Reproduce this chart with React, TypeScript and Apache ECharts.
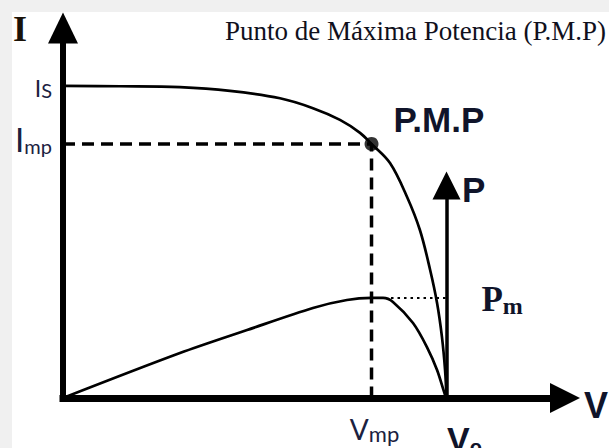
import React, { useEffect, useRef } from 'react';
import * as echarts from 'echarts';

// Axis ranges (V in volts, I in amperes, P in watts)
const V_MAX = 28.8;
const I_MAX = 6;
const P_MAX = 270;

// Characteristic points
const V_OC = 22;
const V_MP = 17.7;
const I_SC = 5.06;
const I_MP = 4.12;
const P_M = 73;
const P_AXIS_TOP = 155;

// I-V curve
const ivVoltage = [0, 3.27, 6.71, 9.58, 12.45, 14.34, 15.89, 17.04, 17.7, 18.76, 19.74, 20.48, 21.06, 21.46, 21.74, 21.92, 22.0];
const ivCurrent = [5.06, 5.055, 5.04, 4.98, 4.86, 4.7, 4.51, 4.3, 4.12, 3.81, 3.26, 2.72, 2.08, 1.54, 0.99, 0.45, 0];

// P-V curve
const pvVoltage = [0, 6.71, 10.56, 14.34, 16.29, 17.7, 18.36, 18.93, 20.08, 20.88, 21.46, 21.92, 22.0];
const pvPower = [0, 32.8, 49.6, 65.7, 71.5, 73.0, 73.0, 70.1, 54.7, 37.2, 20.4, 2.2, 0];

const TITLE = 'Punto de Máxima Potencia (P.M.P)';

const SERIF = '"Liberation Serif", "Times New Roman", serif';
const SANS = '"Liberation Sans", Arial, sans-serif';
const LABEL_FONT = 'Lato, "Open Sans", sans-serif';
const LABEL_COLOR = '#1b2140';

export default function App() {
  const ref = useRef<HTMLDivElement>(null);

  useEffect(() => {
    const el = ref.current as HTMLDivElement;
    const chart = echarts.init(el, null, { renderer: 'svg' });

    const ivData = ivVoltage.map((v, i) => [v, ivCurrent[i]]);
    const pvData = pvVoltage.map((v, i) => [v, pvPower[i]]);

    chart.setOption({
      animation: false,
      backgroundColor: '#ffffff',
      grid: { left: 63, right: 44, top: 28, bottom: 50, containLabel: false, outerBoundsMode: 'none' },
      xAxis: {
        type: 'value',
        min: 0,
        max: V_MAX,
        axisLine: {
          show: true,
          onZero: false,
          symbol: ['none', 'triangle'],
          symbolSize: [30, 30],
          lineStyle: { color: '#000', width: 7, cap: 'square' },
        },
        axisTick: { show: false },
        axisLabel: { show: false },
        splitLine: { show: false },
      },
      yAxis: [
        {
          type: 'value',
          min: 0,
          max: I_MAX,
          axisLine: {
            show: true,
            onZero: false,
            symbol: ['none', 'triangle'],
            symbolSize: [30, 31],
            lineStyle: { color: '#000', width: 6, cap: 'square' },
          },
          axisTick: { show: false },
          axisLabel: { show: false },
          splitLine: { show: false },
        },
        {
          type: 'value',
          min: 0,
          max: P_MAX,
          show: false,
          splitLine: { show: false },
        },
      ],
      series: [
        {
          name: 'I-V',
          type: 'line',
          data: ivData,
          yAxisIndex: 0,
          smooth: 0.35,
          showSymbol: false,
          silent: true,
          lineStyle: { color: '#000', width: 2.7 },
          z: 3,
        },
        {
          name: 'P-V',
          type: 'line',
          data: pvData,
          yAxisIndex: 1,
          smooth: 0.3,
          showSymbol: false,
          silent: true,
          lineStyle: { color: '#000', width: 2.7 },
          z: 3,
          markLine: {
            silent: true,
            symbol: ['none', 'triangle'],
            symbolSize: 28,
            label: { show: false },
            lineStyle: { color: '#000', width: 3.5, type: 'solid' },
            data: [[{ coord: [V_OC, 0] }, { coord: [V_OC, P_AXIS_TOP] }]],
          },
        },
        {
          name: 'guides',
          type: 'line',
          data: [[0, I_MP], [V_MP, I_MP], [V_MP, 0]],
          yAxisIndex: 0,
          showSymbol: false,
          silent: true,
          lineStyle: { color: '#000', width: 3.5, type: [12, 7] },
          z: 2,
        },
        {
          name: 'Pm',
          type: 'line',
          data: [[V_MP, P_M], [V_OC, P_M]],
          yAxisIndex: 1,
          showSymbol: false,
          silent: true,
          lineStyle: { color: '#000', width: 2, type: [2.5, 4] },
          z: 2,
        },
        {
          name: 'PMP',
          type: 'scatter',
          data: [[V_MP, I_MP]],
          yAxisIndex: 0,
          symbolSize: 14,
          silent: true,
          itemStyle: { color: '#000' },
          z: 4,
        },
      ],
    });

    const xPx = (v: number) => chart.convertToPixel({ xAxisIndex: 0 }, v) as number;
    const yPx = (v: number) => chart.convertToPixel({ yAxisIndex: 0 }, v) as number;
    const pPx = (v: number) => chart.convertToPixel({ yAxisIndex: 1 }, v) as number;

    const x0 = xPx(0);
    const xEnd = xPx(V_MAX);
    const xmp = xPx(V_MP);
    const xoc = xPx(V_OC);
    const y0 = yPx(0);
    const yTop = yPx(I_MAX);
    const yIs = yPx(I_SC);
    const yImp = yPx(I_MP);
    const yPm = pPx(P_M);
    const yPtop = pPx(P_AXIS_TOP);

    const text = (t: string, x: number, y: number, style: any) => ({
      type: 'text',
      x,
      y,
      silent: true,
      z: 10,
      style: { text: t, fill: '#000', verticalAlign: 'middle', align: 'left', ...style },
    });

    chart.setOption({
      graphic: [
        { type: 'rect', silent: true, z: 0, shape: { x: 0, y: 0, width: 609, height: 12 }, style: { fill: '#f0f0f0' } },
        { type: 'rect', silent: true, z: 0, shape: { x: 0, y: 0, width: 12, height: 448 }, style: { fill: '#f0f0f0' } },
        text(TITLE, 225, 30.5, { fontFamily: SERIF, fontSize: 27, fill: '#10101c' }),
        text('I', x0 - 50, yTop + 0.7, { fontFamily: SERIF, fontSize: 36, fontWeight: 'bold', fill: '#1a1208' }),
        text('V', xEnd + 19, y0 + 7, { fontFamily: SANS, fontSize: 36, fontWeight: 'bold', fill: '#10142a' }),
        text('{a|I}{b|S}', x0 - 11, yIs + 2.5, {
          align: 'right',
          fill: LABEL_COLOR,
          rich: {
            a: { fontFamily: LABEL_FONT, fontSize: 23, lineHeight: 24, fill: LABEL_COLOR },
            b: { fontFamily: LABEL_FONT, fontSize: 20, lineHeight: 16, verticalAlign: 'bottom', fill: LABEL_COLOR },
          },
        }),
        text('{a|I}{b|mp}', x0 - 11, yImp - 5, {
          align: 'right',
          fill: LABEL_COLOR,
          rich: {
            a: { fontFamily: LABEL_FONT, fontSize: 33, lineHeight: 34, fill: LABEL_COLOR },
            b: { fontFamily: LABEL_FONT, fontSize: 20, lineHeight: 18, verticalAlign: 'bottom', fill: LABEL_COLOR },
          },
        }),
        text('{a|V}{b|mp}', xmp + 3, y0 + 31, {
          align: 'center',
          fill: LABEL_COLOR,
          rich: {
            a: { fontFamily: LABEL_FONT, fontSize: 28, lineHeight: 30, fill: LABEL_COLOR },
            b: { fontFamily: LABEL_FONT, fontSize: 22, lineHeight: 25, verticalAlign: 'bottom', fill: LABEL_COLOR },
          },
        }),
        text('{a|V}{b|o}', xoc + 0.5, y0 + 41, {
          fill: '#10142a',
          rich: {
            a: { fontFamily: SANS, fontSize: 34, fontWeight: 'bold', lineHeight: 36, fill: '#10142a' },
            b: { fontFamily: SANS, fontSize: 20, fontWeight: 'bold', lineHeight: 24, verticalAlign: 'bottom', fill: '#10142a' },
          },
        }),
        text('P.M.P', xmp + 22, yImp - 24, { fontFamily: SANS, fontSize: 35, fontWeight: 'bold', fill: '#10142a' }),
        text('P', xoc + 15.5, yPtop + 3.5, { fontFamily: SANS, fontSize: 35, fontWeight: 'bold', fill: '#10142a' }),
        text('{a|P}{b|m}', xoc + 35, yPm + 2, {
          fill: '#10142a',
          rich: {
            a: { fontFamily: SERIF, fontSize: 35, fontWeight: 'bold', lineHeight: 36, fill: '#10142a' },
            b: { fontFamily: SERIF, fontSize: 24, fontWeight: 'bold', lineHeight: 24, verticalAlign: 'bottom', fill: '#10142a' },
          },
        }),
      ],
    });

    return () => {
      chart.dispose();
    };
  }, []);

  return (
    <div
      ref={ref}
      style={{ position: 'absolute', left: 0, top: 0, width: 609, height: 448, background: '#fff' }}
    />
  );
}
